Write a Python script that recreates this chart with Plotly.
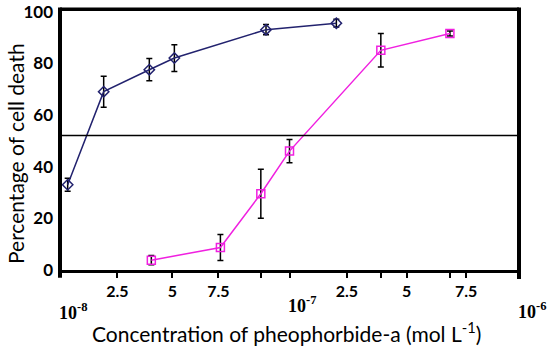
import plotly.graph_objects as go
import math

# ---- data ----
blue_conc = [1.08e-8, 1.55e-8, 2.45e-8, 3.15e-8, 7.9e-8, 1.6e-7]
blue_pct = [33.0, 69.0, 77.5, 82.0, 93.0, 95.5]
blue_err = [2.5, 6.0, 4.3, 5.2, 2.0, 1.5]

pink_conc = [2.5e-8, 5.0e-8, 7.5e-8, 1.0e-7, 2.5e-7, 5.0e-7]
pink_pct = [3.8, 8.7, 29.5, 46.0, 85.0, 91.5]
pink_err = [1.8, 5.0, 9.5, 4.5, 6.5, 1.0]

ref_line_pct = 52.0

tick_vals = [10**-7.75, 10**-7.51, 10**-7.31, 1e-7, 10**-6.75, 10**-6.49, 10**-6.23]
tick_text = ["2.5", "5", "7.5", "", "2.5", "5", "7.5"]
minor_tick_vals = [7.5e-8, 2.5e-7, 5e-7]
decade_vals = [1e-8, 1e-7, 1e-6]
decade_text = ["10<sup>-8</sup>", "10<sup>-7</sup>", "10<sup>-6</sup>"]
decade_label_drop = [41, 34, 40]

y_tick_vals = [0, 20, 40, 60, 80, 100]

W, H = 550, 351
PL, PT, PR, PB = 60, 10, 519, 270  # plot box in pixels
plot_w = PR - PL
plot_h = PB - PT

fig = go.Figure()

fig.add_trace(go.Scatter(
    x=blue_conc, y=blue_pct, mode="lines+markers",
    line=dict(color="#22226E", width=1.5),
    marker=dict(symbol="diamond-open", size=8, color="#22226E", line=dict(width=1.5)),
    error_y=dict(type="data", array=blue_err, color="black", thickness=1.5, width=3),
    showlegend=False,
))
fig.add_trace(go.Scatter(
    x=pink_conc, y=pink_pct, mode="lines+markers",
    line=dict(color="#F020E0", width=1.5),
    marker=dict(symbol="square-open", size=8, color="#F020E0", line=dict(width=1.5)),
    error_y=dict(type="data", array=pink_err, color="black", thickness=1.5, width=3),
    showlegend=False,
))

shapes = [
    dict(type="line", xref="paper", yref="y", x0=0, x1=1, y0=ref_line_pct, y1=ref_line_pct,
         line=dict(color="black", width=1.5)),
    dict(type="line", xref="paper", yref="paper", x0=0, x1=1, y0=1.003, y1=1.003,
         line=dict(color="black", width=3.5)),
    dict(type="line", xref="paper", yref="paper", x0=1, x1=1, y0=-0.035, y1=1.01,
         line=dict(color="black", width=4)),
    dict(type="line", xref="paper", yref="paper", x0=0, x1=0, y0=-0.03, y1=1.01,
         line=dict(color="black", width=4)),
]

annotations = []
for v, t, d in zip(decade_vals, decade_text, decade_label_drop):
    annotations.append(dict(
        x=math.log10(v), y=0, xref="x", yref="paper", text=t, showarrow=False,
        xshift=13, yshift=-d, xanchor="center", yanchor="middle",
        font=dict(family="Liberation Serif", size=18, color="black", weight="bold"),
    ))
annotations.append(dict(
    x=(286 - PL) / plot_w, y=-(332 - PB) / plot_h, xref="paper", yref="paper",
    xanchor="center", yanchor="middle",
    text="Concentration of pheophorbide-a (mol L<sup>-1</sup>)",
    showarrow=False, font=dict(family="Lato", size=21, color="black"),
))
annotations.append(dict(
    x=(15 - PL) / plot_w, y=(PB - 154) / plot_h, xref="paper", yref="paper",
    xanchor="center", yanchor="middle", textangle=-90,
    text="Percentage of cell death",
    showarrow=False, font=dict(family="Lato", size=21, color="black"),
))

fig.update_layout(
    width=W, height=H,
    margin=dict(l=PL, r=W - PR, t=PT, b=H - PB, autoexpand=False),
    paper_bgcolor="white", plot_bgcolor="white",
    shapes=shapes,
    annotations=annotations,
    xaxis=dict(
        type="log", range=[-8, -6], automargin=False,
        tickmode="array", tickvals=tick_vals, ticktext=tick_text,
        ticks="outside", ticklen=5, tickwidth=1.5, tickcolor="black",
        showline=True, linecolor="black", linewidth=3,
        showgrid=False, zeroline=False,
        tickfont=dict(family="Lato", size=16, color="black", weight="bold"),
        minor=dict(tickvals=minor_tick_vals, ticks="outside", ticklen=5, tickwidth=1.5, tickcolor="black", showgrid=False),
    ),
    yaxis=dict(
        range=[0, 100.6], automargin=False,
        tickmode="array", tickvals=y_tick_vals,
        showline=False, showgrid=False, zeroline=False,
        ticks="", ticklabelstandoff=6,
        tickfont=dict(family="Lato", size=17, color="black", weight="bold"),
    ),
)

fig.write_html("out.html", config={"displayModeBar": False},
               post_script="document.body.style.margin='0px';")
